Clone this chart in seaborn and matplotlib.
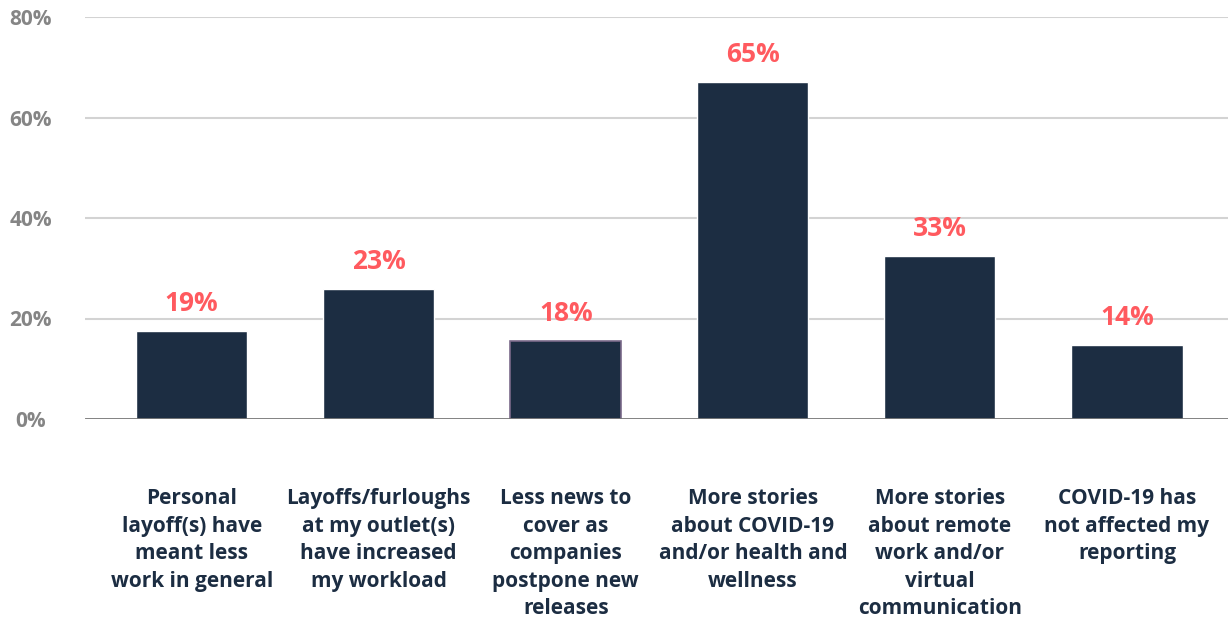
import matplotlib
matplotlib.use("Agg")
import matplotlib.pyplot as plt
import seaborn as sns
import pandas as pd

# data
categories = [
    "Personal\nlayoff(s) have\nmeant less\nwork in general",
    "Layoffs/furloughs\nat my outlet(s)\nhave increased\nmy workload",
    "Less news to\ncover as\ncompanies\npostpone new\nreleases",
    "More stories\nabout COVID-19\nand/or health and\nwellness",
    "More stories\nabout remote\nwork and/or\nvirtual\ncommunication",
    "COVID-19 has\nnot affected my\nreporting",
]
bar_heights = [17.5, 25.9, 15.5, 67.1, 32.4, 14.7]
bar_labels = ["19%", "23%", "18%", "65%", "33%", "14%"]
y_ticks = [0, 20, 40, 60, 80]

df = pd.DataFrame({"cat": categories, "val": bar_heights})

sns.set_theme(style="white")
plt.rcParams["font.family"] = ["Open Sans", "DejaVu Sans"]

fig = plt.figure(figsize=(12.28, 6.2), dpi=100)
ax = fig.add_axes([85 / 1228, 201 / 620, 1 - 85 / 1228, 402 / 620])

sns.barplot(data=df, x="cat", y="val", color="#1c2d42", width=0.594,
            saturation=1, ax=ax, zorder=3)
# third bar has a faint purple outline in the original
ax.patches[2].set_edgecolor("#7a6a8a")
ax.patches[2].set_linewidth(1.2)

for i, (h, lab) in enumerate(zip(bar_heights, bar_labels)):
    ax.annotate(lab, (i, h), xytext=(0, 10), textcoords="offset points",
                ha="center", va="bottom", color="#ff5a5f",
                fontsize=19, fontweight="bold")

ax.set_ylim(0, 80)
ax.set_xlim(-0.57, 5.54)
ax.set_yticks(y_ticks)
ax.set_yticklabels([f"{t}%" for t in y_ticks], color="#858585",
                   fontsize=15, fontweight="bold", ha="center")
for t in y_ticks[1:]:
    ax.axhline(t, color="#d3d3d3", lw=1.5, zorder=1)
ax.axhline(0, color="#777777", lw=2, zorder=4)

ax.set_xticks(range(len(categories)))
ax.set_xticklabels(categories, color="#1c2d42", fontsize=15,
                   fontweight="bold", linespacing=1.4, va="top")
ax.tick_params(axis="x", length=0, pad=50)
ax.tick_params(axis="y", length=0, pad=39)
ax.set_xlabel("")
ax.set_ylabel("")
for s in ax.spines.values():
    s.set_visible(False)

fig.savefig("out.png", dpi=100)
